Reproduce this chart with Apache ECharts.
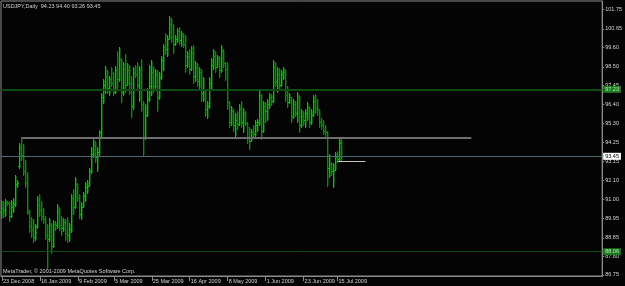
<!DOCTYPE html>
<html>
<head>
<meta charset="utf-8">
<script src="https://cdn.jsdelivr.net/npm/echarts@6/dist/echarts.min.js"></script>
<style>
html, body { margin: 0; padding: 0; background: #040405; }
#chart { width: 625px; height: 286px; }
</style>
</head>
<body>
<div id="chart"></div>
<script>
// USDJPY daily bars
var symbol = 'USDJPY,Daily';
var copyright = 'MetaTrader, \u00a9 2001-2009 MetaQuotes Software Corp.';

var xLabels = ['23 Dec 2008', '16 Jan 2009', '9 Feb 2009', '3 Mar 2009', '25 Mar 2009',
    '16 Apr 2009', '8 May 2009', '1 Jun 2009', '23 Jun 2009', '15 Jul 2009'];
var xLabelPos = [0, 19, 38, 56, 75, 94, 113, 132, 151, 168];

var yLabels = ['101.75', '100.65', '99.60', '98.50', '97.45', '96.40', '95.30', '94.25',
    '93.15', '92.10', '91.00', '89.95', '88.85', '87.80', '86.75'];

var opens = [90.30, 90.55, 90.40, 90.85, 90.80, 90.10, 90.60, 90.75, 91.90, 92.90,
    93.90, 93.55, 92.60, 91.95, 90.30, 89.50, 89.30, 88.90, 89.50, 90.70,
    90.40, 90.10, 89.90, 89.00, 88.80, 89.55, 88.40, 89.60, 89.55, 90.30,
    89.55, 89.40, 89.75, 89.10, 89.00, 89.35, 91.10, 90.60, 91.90, 91.10,
    90.20, 90.60, 91.20, 91.70, 91.80, 92.60, 93.60, 94.10, 93.40, 93.70,
    94.80, 96.80, 97.50, 98.00, 97.30, 97.80, 97.60, 97.10, 98.30, 97.80,
    98.90, 97.10, 98.40, 97.50, 98.30, 97.60, 96.30, 98.20, 98.10, 97.50,
    98.30, 96.40, 94.50, 95.80, 96.70, 97.40, 98.20, 97.40, 98.10, 96.80,
    97.90, 98.90, 99.60, 99.50, 100.10, 100.90, 100.20, 99.80, 100.10, 100.50,
    100.00, 100.30, 99.80, 98.60, 99.10, 98.40, 99.30, 98.00, 98.50, 97.70,
    98.20, 97.00, 97.20, 96.10, 96.30, 97.60, 98.60, 99.10, 98.50, 99.00,
    98.30, 99.40, 98.70, 98.40, 96.50, 95.40, 96.00, 95.20, 95.50, 95.30,
    96.10, 95.40, 95.90, 95.35, 94.50, 94.30, 94.80, 94.70, 95.20, 95.40,
    96.90, 94.90, 96.30, 96.00, 96.40, 96.80, 96.60, 98.50, 97.70, 98.10,
    97.50, 98.10, 98.20, 96.90, 96.50, 96.80, 95.70, 96.40, 95.90, 96.80,
    95.20, 95.70, 95.50, 95.90, 96.20, 95.40, 95.80, 96.60, 96.20, 96.10,
    95.40, 95.20, 94.90, 94.80, 92.80, 93.00, 92.60, 92.70, 93.40, 93.30,
    94.23];
var highs = [91.00, 90.95, 91.05, 90.95, 90.90, 91.00, 91.10, 92.40, 92.10, 94.20,
    94.52, 94.15, 93.25, 92.55, 90.40, 90.00, 89.90, 89.60, 91.20, 91.30,
    90.90, 90.55, 90.10, 89.65, 89.95, 89.70, 89.85, 89.80, 90.75, 90.60,
    90.10, 89.95, 89.90, 90.00, 89.70, 91.30, 91.60, 92.30, 91.95, 91.30,
    90.85, 91.45, 92.00, 92.10, 92.80, 94.00, 94.45, 94.30, 94.00, 94.95,
    97.00, 97.80, 98.55, 98.30, 98.00, 98.50, 98.20, 98.55, 99.40, 99.60,
    99.00, 98.80, 99.20, 98.70, 98.60, 98.00, 98.50, 98.60, 98.75, 98.55,
    98.95, 96.55, 96.40, 97.30, 98.60, 98.90, 98.55, 98.40, 98.30, 98.20,
    99.10, 99.80, 100.40, 100.30, 101.40, 101.25, 100.90, 100.30, 100.70, 100.75,
    100.50, 100.40, 100.30, 99.40, 99.50, 99.70, 99.75, 98.85, 98.70, 98.50,
    98.40, 97.90, 97.25, 96.60, 97.90, 99.00, 99.50, 99.40, 99.15, 99.10,
    99.75, 99.50, 98.80, 98.80, 96.60, 96.30, 96.10, 95.90, 96.00, 96.40,
    96.60, 96.20, 96.00, 95.40, 95.10, 95.00, 95.20, 95.50, 95.55, 97.20,
    96.95, 96.60, 96.50, 96.70, 97.00, 96.95, 98.90, 98.80, 98.50, 98.45,
    98.30, 98.50, 98.40, 97.40, 97.00, 96.80, 96.70, 96.55, 97.10, 96.90,
    96.10, 96.00, 96.10, 96.50, 96.30, 96.10, 96.90, 96.95, 96.70, 96.10,
    95.60, 95.50, 95.20, 94.90, 93.60, 93.10, 93.05, 93.70, 93.75, 94.50,
    94.40];
var lows = [89.95, 90.05, 90.10, 90.70, 89.80, 90.00, 90.30, 90.65, 91.70, 92.80,
    93.25, 92.40, 91.70, 90.20, 89.20, 88.90, 88.60, 88.70, 89.40, 90.10,
    89.85, 89.70, 88.80, 87.15, 88.65, 88.00, 88.35, 89.30, 89.40, 89.30,
    89.00, 89.25, 88.70, 88.60, 88.65, 89.20, 90.20, 90.55, 90.90, 89.95,
    89.90, 90.60, 90.90, 91.40, 91.75, 92.50, 93.40, 93.10, 92.60, 93.50,
    94.55, 96.45, 97.00, 97.00, 96.90, 97.40, 96.90, 97.00, 97.30, 97.70,
    96.50, 96.90, 97.10, 97.45, 96.95, 95.65, 96.10, 97.90, 97.30, 96.55,
    96.00, 93.55, 94.45, 95.70, 96.60, 96.90, 97.10, 97.30, 96.00, 96.70,
    97.80, 98.30, 99.20, 99.10, 100.05, 99.90, 99.30, 99.75, 99.90, 99.80,
    99.70, 99.60, 98.20, 98.50, 98.10, 98.30, 97.60, 97.70, 97.40, 97.30,
    96.60, 96.60, 95.70, 95.60, 96.20, 97.20, 98.40, 98.20, 98.50, 97.95,
    98.20, 98.50, 97.75, 96.10, 95.10, 95.20, 94.90, 94.60, 95.00, 95.20,
    95.10, 94.85, 95.20, 94.20, 93.85, 94.30, 94.50, 94.60, 94.90, 95.20,
    94.40, 94.80, 95.40, 95.50, 96.20, 96.35, 96.50, 97.40, 97.10, 97.20,
    97.40, 97.80, 96.60, 96.25, 96.45, 95.40, 95.60, 95.70, 95.40, 94.85,
    95.10, 95.20, 95.10, 95.50, 95.10, 95.30, 95.70, 95.90, 95.80, 95.10,
    95.00, 94.70, 94.60, 91.75, 92.30, 92.40, 91.70, 92.65, 93.10, 93.20,
    93.26];
var closes = [90.55, 90.40, 90.85, 90.80, 90.10, 90.60, 90.75, 91.90, 91.95, 93.90,
    93.55, 92.60, 91.95, 90.40, 89.50, 89.30, 88.90, 89.20, 90.70, 90.40,
    90.10, 89.90, 89.00, 88.80, 89.55, 88.40, 89.60, 89.55, 90.30, 89.55,
    89.40, 89.75, 89.10, 89.00, 89.35, 91.10, 90.60, 91.90, 91.10, 90.20,
    90.60, 91.20, 91.70, 91.80, 92.60, 93.60, 94.10, 93.40, 93.70, 94.80,
    96.80, 97.50, 98.00, 97.30, 97.80, 97.60, 97.10, 98.30, 97.80, 98.90,
    97.10, 98.40, 97.50, 98.30, 97.60, 96.30, 98.20, 98.10, 97.50, 98.30,
    96.40, 94.50, 95.80, 96.70, 97.40, 98.20, 97.40, 98.10, 96.80, 97.90,
    98.90, 99.60, 99.50, 100.10, 100.90, 100.20, 99.80, 100.10, 100.50, 100.00,
    100.30, 99.80, 98.60, 99.10, 98.40, 99.30, 98.00, 98.50, 97.70, 98.20,
    97.00, 97.20, 96.10, 96.30, 97.60, 98.60, 99.10, 98.50, 99.00, 98.30,
    99.40, 98.70, 98.40, 96.50, 95.40, 96.00, 95.20, 95.50, 95.30, 96.10,
    95.40, 95.90, 95.35, 94.50, 94.30, 94.80, 94.70, 95.20, 95.40, 96.90,
    94.90, 96.30, 96.00, 96.40, 96.80, 96.60, 98.50, 97.70, 98.10, 97.50,
    98.10, 98.20, 96.90, 96.50, 96.80, 95.70, 96.40, 95.90, 96.80, 95.20,
    95.70, 95.50, 95.90, 96.20, 95.40, 95.80, 96.60, 96.20, 96.10, 95.40,
    95.20, 94.90, 94.80, 92.80, 93.00, 92.60, 92.70, 93.40, 93.30, 94.20,
    93.45];

// drawn objects on the chart
var levelUpper = 97.23;
var levelLower = 88.06;
var trendLevel = 94.50, trendFrom = 10, trendTo = 235;
var shortLevel = 93.18, shortFrom = 168, shortTo = 182;

var slots = 301;
var upColor = '#00c400', upShade = '#035003';
var downColor = '#088c08', downShade = '#043804';
var levelColor = '#0f4c0f';
var axisColor = '#8c8c8c';
var textColor = '#d4d4d4';
var font = 'Liberation Sans';

var cats = [];
for (var k = 0; k < slots; k++) cats.push('');
xLabelPos.forEach(function (p, j) { cats[p] = xLabels[j]; });

var yTicks = yLabels.map(Number);
var last = opens.length - 1;
var bid = closes[last];

var bars = opens.map(function (o, i) {
    return [i, o, highs[i], lows[i], closes[i]];
});

function showLabel(idx, val) { return val !== ''; }

function pix(color, x, y, w, h) {
    return {
        type: 'rect',
        shape: { x: x, y: y, width: w, height: h },
        style: { fill: color, stroke: null, lineWidth: 0 }
    };
}

function boxLabel(text, bg, fg) {
    return {
        show: true, position: 'end', distance: 1,
        formatter: text,
        backgroundColor: bg, color: fg,
        fontSize: 5.5, fontFamily: font, padding: [1, 2, 0, 2]
    };
}

var chart = echarts.init(document.getElementById('chart'));
var option = {
    animation: false,
    backgroundColor: '#040405',
    grid: {
        left: 1, right: 22, top: 1, bottom: 10,
        show: true, borderColor: axisColor, borderWidth: 1
    },
    xAxis: {
        type: 'category',
        data: cats,
        boundaryGap: true,
        axisLine: { show: true, lineStyle: { color: axisColor } },
        axisTick: {
            show: true, interval: showLabel, alignWithLabel: true, length: 5,
            lineStyle: { color: axisColor }
        },
        axisLabel: {
            interval: showLabel, hideOverlap: false, align: 'left',
            color: textColor, fontSize: 5.5, fontFamily: font, margin: 2,
            padding: [0, 0, 0, 1]
        },
        splitLine: { show: false }
    },
    yAxis: {
        type: 'value',
        position: 'right',
        min: 86.69,
        max: 102.22,
        axisLine: { show: true, lineStyle: { color: axisColor } },
        axisTick: {
            show: true, length: 2, customValues: yTicks,
            lineStyle: { color: axisColor }
        },
        axisLabel: {
            customValues: yTicks,
            formatter: function (v) { return v.toFixed(2); },
            color: textColor, fontSize: 5.5, fontFamily: font, margin: 3
        },
        splitLine: { show: false }
    },
    graphic: [
        {
            type: 'text', left: 3, top: 3, silent: true,
            style: {
                text: symbol + '  ' + [opens[last], highs[last], lows[last], closes[last]]
                    .map(function (v) { return v.toFixed(2); }).join(' '),
                fill: textColor, font: '5.5px "' + font + '"'
            }
        },
        {
            type: 'text', left: 3, top: 268, silent: true,
            style: { text: copyright, fill: textColor, font: '5.5px "' + font + '"' }
        }
    ],
    series: [{
        type: 'custom',
        data: bars,
        silent: true,
        encode: { x: 0, y: [1, 2, 3, 4] },
        renderItem: function (params, api) {
            var i = api.value(0);
            var o = api.coord([i, api.value(1)]);
            var h = api.coord([i, api.value(2)]);
            var l = api.coord([i, api.value(3)]);
            var c = api.coord([i, api.value(4)]);
            var x = Math.round(h[0]) - 1;
            var top = Math.round(h[1]);
            var bottom = Math.round(l[1]) + 1;
            var up = api.value(4) >= api.value(1);
            var color = up ? upColor : downColor;
            var shade = up ? upShade : downShade;
            return {
                type: 'group',
                children: [
                    pix(shade, x + 1, top + 1, 1, bottom - top - 2),
                    pix(color, x, top, 1, bottom - top),
                    pix(color, x - 1, Math.round(o[1]), 1, 1),
                    pix(color, x + 1, Math.round(c[1]), 1, 1)
                ]
            };
        },
        markLine: {
            silent: true,
            symbol: ['none', 'none'],
            animation: false,
            data: [
                {
                    yAxis: levelUpper,
                    lineStyle: { color: levelColor, width: 2, type: 'solid' },
                    label: boxLabel(levelUpper.toFixed(2), '#1c7a1c', '#b8e8b8')
                },
                {
                    yAxis: levelLower,
                    lineStyle: { color: levelColor, width: 1, type: 'solid' },
                    label: boxLabel(levelLower.toFixed(2), '#1c7a1c', '#b8e8b8')
                },
                {
                    yAxis: bid,
                    lineStyle: { color: '#4e6870', width: 1, type: 'solid' },
                    label: boxLabel(bid.toFixed(2), '#ffffff', '#000000')
                },
                [
                    { coord: [trendFrom, trendLevel], lineStyle: { color: '#6e6e6e', width: 2, type: 'solid' }, label: { show: false } },
                    { coord: [trendTo, trendLevel], lineStyle: { color: '#6e6e6e', width: 2, type: 'solid' }, label: { show: false } }
                ],
                [
                    { coord: [shortFrom, shortLevel], lineStyle: { color: '#c4c4c4', width: 1, type: 'solid' }, label: { show: false } },
                    { coord: [shortTo, shortLevel], lineStyle: { color: '#c4c4c4', width: 1, type: 'solid' }, label: { show: false } }
                ]
            ]
        }
    }]
};
chart.setOption(option);
</script>
</body>
</html>
